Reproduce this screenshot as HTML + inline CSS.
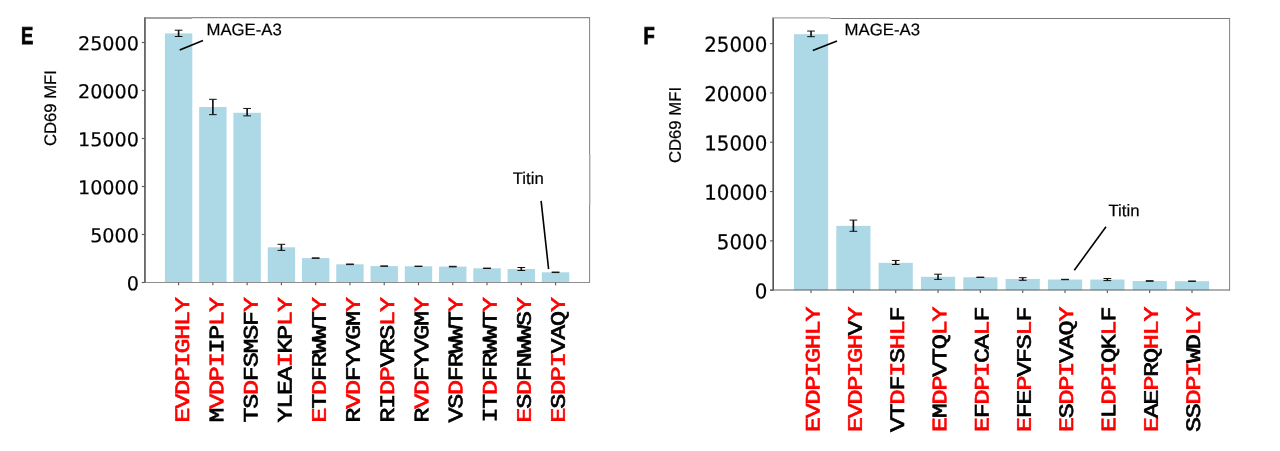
<!DOCTYPE html>
<html lang="en">
<head>
<meta charset="utf-8">
<title>CD69 MFI bar charts</title>
<style>
html,body{margin:0;padding:0;background:#fff}
body{width:1280px;height:451px;overflow:hidden}
svg{display:block}
text{font-kerning:none;text-rendering:geometricPrecision}
.bars rect{fill:#add8e6}
.err .st{fill:none;stroke:#111;stroke-width:1.65}
.err .cp{fill:none;stroke:#111;stroke-width:1}
.fl{fill:none;stroke:#454545;stroke-width:1.5}
.ft,.ftl{fill:none}
.frl{fill:none;stroke:#8a8a8a;stroke-width:1.1}
.fr{fill:none;stroke:#808080;stroke-width:1}
.fb{fill:none}
.tick path{fill:none;stroke:#5a5a5a;stroke-width:1.15}
.ytl text{font-family:"DejaVu Sans","Liberation Sans",sans-serif;text-anchor:end;fill:#000;stroke:#000;stroke-width:.2px}
.ylab{font-family:"Liberation Sans",sans-serif;font-size:16.7px;text-anchor:middle;fill:#000;stroke:#000;stroke-width:.25px}
.panel{font-family:"Liberation Sans",sans-serif;font-weight:bold;font-size:24.5px;fill:#000;stroke:#000;stroke-width:.85px;stroke-linejoin:miter}
.ann{font-family:"Liberation Sans",sans-serif;font-size:16.75px;fill:#000;stroke:#000;stroke-width:.2px}
.kn{font-kerning:normal}
.annl{fill:none;stroke:#000;stroke-width:1.6}
.xl text{font-family:"Liberation Mono",monospace;font-weight:normal;font-size:25px;letter-spacing:-1.2px;text-anchor:end;text-rendering:geometricPrecision;stroke-width:.8px;stroke-linejoin:miter}
.xl .r{fill:#ff0000;stroke:#ff0000}
.xl .k{fill:#000;stroke:#000}
</style>
</head>
<body>
<svg width="1280" height="451" viewBox="0 0 1280 451">
<rect width="1280" height="451" fill="#ffffff"/>
<g id="chartE">
<g class="bars">
<rect x="164.9" y="33.4" width="27.4" height="249.1"/>
<rect x="199.17" y="107" width="27.4" height="175.5"/>
<rect x="233.44" y="112.8" width="27.4" height="169.7"/>
<rect x="267.71" y="247.3" width="27.4" height="35.2"/>
<rect x="301.98" y="258.1" width="27.4" height="24.4"/>
<rect x="336.25" y="264.3" width="27.4" height="18.2"/>
<rect x="370.52" y="266.1" width="27.4" height="16.4"/>
<rect x="404.79" y="266.3" width="27.4" height="16.2"/>
<rect x="439.06" y="266.6" width="27.4" height="15.9"/>
<rect x="473.33" y="268.3" width="27.4" height="14.2"/>
<rect x="507.6" y="269" width="27.4" height="13.5"/>
<rect x="541.87" y="272.3" width="27.4" height="10.2"/>
</g>
<g class="err">
<path class="st" d="M178.6 30.2V36.5"/>
<path class="cp" d="M174.75 30.2H182.45M174.75 36.5H182.45"/>
<path class="st" d="M212.87 99.3V114.65"/>
<path class="cp" d="M209.02 99.3H216.72M209.02 114.65H216.72"/>
<path class="st" d="M247.14 108.45V115.85"/>
<path class="cp" d="M243.29 108.45H250.99M243.29 115.85H250.99"/>
<path class="st" d="M281.41 244.3V250.4"/>
<path class="cp" d="M277.56 244.3H285.26M277.56 250.4H285.26"/>
<path class="cp" d="M311.83 257.9H319.53M311.83 258.3H319.53"/>
<path class="cp" d="M346.1 264H353.8M346.1 264.6H353.8"/>
<path class="cp" d="M380.37 265.95H388.07M380.37 266.25H388.07"/>
<path class="cp" d="M414.64 266.15H422.34M414.64 266.45H422.34"/>
<path class="cp" d="M448.91 266.3H456.61M448.91 266.9H456.61"/>
<path class="cp" d="M483.18 268.1H490.88M483.18 268.5H490.88"/>
<path class="st" d="M521.3 267.5V270.5"/>
<path class="cp" d="M517.45 267.5H525.15M517.45 270.5H525.15"/>
<path class="cp" d="M551.72 272.05H559.42M551.72 272.55H559.42"/>
</g>
<path class="fl" d="M144.95 17.3V282.9"/>
<path class="ftl" style="stroke:#858585;stroke-width:1.6" d="M144.95 17.95H192"/>
<path class="ft" style="stroke:#8c8c8c;stroke-width:1.1" d="M192 17.6H590.1"/>
<path class="fr" d="M589.6 17.8V154M589.6 204.4V282.9"/>
<path class="frl" d="M589.8 154V204.4"/>
<path class="fb" style="stroke:#8e8e8e;stroke-width:1" d="M141.85 282.5H589.6"/>
<g class="tick">
<path d="M141.85 282.5H144.95"/>
<path d="M141.85 234.5H144.95"/>
<path d="M141.85 186.5H144.95"/>
<path d="M141.85 138.5H144.95"/>
<path d="M141.85 90.5H144.95"/>
<path d="M141.85 42.5H144.95"/>
<path d="M178.6 282.5V285.3"/>
<path d="M212.87 282.5V285.3"/>
<path d="M247.14 282.5V285.3"/>
<path d="M281.41 282.5V285.3"/>
<path d="M315.68 282.5V285.3"/>
<path d="M349.95 282.5V285.3"/>
<path d="M384.22 282.5V285.3"/>
<path d="M418.49 282.5V285.3"/>
<path d="M452.76 282.5V285.3"/>
<path d="M487.03 282.5V285.3"/>
<path d="M521.3 282.5V285.3"/>
<path d="M555.57 282.5V285.3"/>
</g>
<g class="ytl">
<text transform="translate(139 290.2) rotate(0.03) scale(1 1)" font-size="19.2">0</text>
<text transform="translate(139 242.2) rotate(0.03) scale(1 1)" font-size="19.2">5000</text>
<text transform="translate(139 194.2) rotate(0.03) scale(1 1)" font-size="19.2">10000</text>
<text transform="translate(139 146.2) rotate(0.03) scale(1 1)" font-size="19.2">15000</text>
<text transform="translate(139 98.2) rotate(0.03) scale(1 1)" font-size="19.2">20000</text>
<text transform="translate(139 50.2) rotate(0.03) scale(1 1)" font-size="19.2">25000</text>
</g>
<text class="ylab" transform="translate(55.95 108.1) rotate(-89.97)">CD69 MFI</text>
<text class="panel" transform="translate(20.9 44.45) rotate(0.03) scale(0.75 1)">E</text>
<text class="ann" transform="translate(206.45 35.2) rotate(0.03)">MAGE-A3</text>
<path class="annl" d="M179.7 50.1L203 40.6"/>
<text class="ann kn" transform="translate(512.75 183.95) rotate(0.03)">Titin</text>
<path class="annl" d="M541.1 200.8L548.6 269.2"/>
<g class="xl">
<text transform="translate(188.95 298.3) rotate(-89.97) scale(1 0.82)"><tspan class="r">EVDPIGHLY</tspan></text>
<text transform="translate(223.2 298.3) rotate(-89.97) scale(1 0.82)"><tspan class="k">M</tspan><tspan class="r">VDPI</tspan><tspan class="k">IP</tspan><tspan class="r">LY</tspan></text>
<text transform="translate(257.45 298.3) rotate(-89.97) scale(1 0.82)"><tspan class="k">TS</tspan><tspan class="r">D</tspan><tspan class="k">FSMSF</tspan><tspan class="r">Y</tspan></text>
<text transform="translate(291.45 298.3) rotate(-89.97) scale(1 0.82)"><tspan class="k">YLEA</tspan><tspan class="r">I</tspan><tspan class="k">KP</tspan><tspan class="r">LY</tspan></text>
<text transform="translate(325.7 298.3) rotate(-89.97) scale(1 0.82)"><tspan class="r">E</tspan><tspan class="k">T</tspan><tspan class="r">D</tspan><tspan class="k">FRWWT</tspan><tspan class="r">Y</tspan></text>
<text transform="translate(359.7 298.3) rotate(-89.97) scale(1 0.82)"><tspan class="k">R</tspan><tspan class="r">VD</tspan><tspan class="k">FYVGM</tspan><tspan class="r">Y</tspan></text>
<text transform="translate(393.95 298.3) rotate(-89.97) scale(1 0.82)"><tspan class="k">RI</tspan><tspan class="r">DP</tspan><tspan class="k">VRS</tspan><tspan class="r">LY</tspan></text>
<text transform="translate(428.2 298.3) rotate(-89.97) scale(1 0.82)"><tspan class="k">R</tspan><tspan class="r">VD</tspan><tspan class="k">FYVGM</tspan><tspan class="r">Y</tspan></text>
<text transform="translate(462.2 298.3) rotate(-89.97) scale(1 0.82)"><tspan class="k">VS</tspan><tspan class="r">D</tspan><tspan class="k">FRWWT</tspan><tspan class="r">Y</tspan></text>
<text transform="translate(496.45 298.3) rotate(-89.97) scale(1 0.82)"><tspan class="k">IT</tspan><tspan class="r">D</tspan><tspan class="k">FRWWT</tspan><tspan class="r">Y</tspan></text>
<text transform="translate(530.7 298.3) rotate(-89.97) scale(1 0.82)"><tspan class="r">E</tspan><tspan class="k">S</tspan><tspan class="r">D</tspan><tspan class="k">FNWWS</tspan><tspan class="r">Y</tspan></text>
<text transform="translate(564.7 298.3) rotate(-89.97) scale(1 0.82)"><tspan class="r">E</tspan><tspan class="k">S</tspan><tspan class="r">DPI</tspan><tspan class="k">VAQ</tspan><tspan class="r">Y</tspan></text>
</g>
</g>
<g id="chartF">
<g class="bars">
<rect x="793.95" y="34.2" width="34.2" height="256"/>
<rect x="836.28" y="225.85" width="34.2" height="64.35"/>
<rect x="878.61" y="262.8" width="34.2" height="27.4"/>
<rect x="920.94" y="276.8" width="34.2" height="13.4"/>
<rect x="963.27" y="277.3" width="34.2" height="12.9"/>
<rect x="1005.6" y="279" width="34.2" height="11.2"/>
<rect x="1047.93" y="279.5" width="34.2" height="10.7"/>
<rect x="1090.26" y="279.55" width="34.2" height="10.65"/>
<rect x="1132.59" y="281" width="34.2" height="9.2"/>
<rect x="1174.92" y="281.2" width="34.2" height="9"/>
</g>
<g class="err">
<path class="st" d="M811.05 31.05V36.7"/>
<path class="cp" d="M807.2 31.05H814.9M807.2 36.7H814.9"/>
<path class="st" d="M853.38 220.1V231.3"/>
<path class="cp" d="M849.53 220.1H857.23M849.53 231.3H857.23"/>
<path class="st" d="M895.71 260.45V264.5"/>
<path class="cp" d="M891.86 260.45H899.56M891.86 264.5H899.56"/>
<path class="st" d="M938.04 274.2V279.4"/>
<path class="cp" d="M934.19 274.2H941.89M934.19 279.4H941.89"/>
<path class="cp" d="M976.52 277.15H984.22M976.52 277.45H984.22"/>
<path class="st" d="M1022.7 277.7V280.3"/>
<path class="cp" d="M1018.85 277.7H1026.55M1018.85 280.3H1026.55"/>
<path class="cp" d="M1061.18 279.3H1068.88M1061.18 279.7H1068.88"/>
<path class="st" d="M1107.36 278.5V280.6"/>
<path class="cp" d="M1103.51 278.5H1111.21M1103.51 280.6H1111.21"/>
<path class="cp" d="M1145.84 280.7H1153.54M1145.84 281.3H1153.54"/>
<path class="cp" d="M1188.17 281.1H1195.87M1188.17 281.3H1195.87"/>
</g>
<path class="fl" d="M773.15 17.6V290.6"/>
<path class="ftl" style="stroke:#a6a6a6;stroke-width:1.3" d="M773.15 17.9H830.3"/>
<path class="ft" style="stroke:#7a7a7a;stroke-width:1.2" d="M830.3 18.5H1230.1"/>
<path class="fr" d="M1229.6 18.1V290.6"/>
<path class="fb" style="stroke:#606060;stroke-width:1.1" d="M770.05 290.05H1229.6"/>
<g class="tick">
<path d="M770.05 290.2H773.15"/>
<path d="M770.05 240.88H773.15"/>
<path d="M770.05 191.56H773.15"/>
<path d="M770.05 142.24H773.15"/>
<path d="M770.05 92.92H773.15"/>
<path d="M770.05 43.6H773.15"/>
<path d="M811.05 290.2V293"/>
<path d="M853.38 290.2V293"/>
<path d="M895.71 290.2V293"/>
<path d="M938.04 290.2V293"/>
<path d="M980.37 290.2V293"/>
<path d="M1022.7 290.2V293"/>
<path d="M1065.03 290.2V293"/>
<path d="M1107.36 290.2V293"/>
<path d="M1149.69 290.2V293"/>
<path d="M1192.02 290.2V293"/>
</g>
<g class="ytl">
<text transform="translate(767.3 298.45) rotate(0.03) scale(1 1.04)" font-size="19.85">0</text>
<text transform="translate(767.3 249.2) rotate(0.03) scale(1 1.04)" font-size="19.85">5000</text>
<text transform="translate(767.3 199.7) rotate(0.03) scale(1 1.04)" font-size="19.85">10000</text>
<text transform="translate(767.3 150.45) rotate(0.03) scale(1 1.04)" font-size="19.85">15000</text>
<text transform="translate(767.3 101.2) rotate(0.03) scale(1 1.04)" font-size="19.85">20000</text>
<text transform="translate(767.3 51.7) rotate(0.03) scale(1 1.04)" font-size="19.85">25000</text>
</g>
<text class="ylab" transform="translate(680.7 125) rotate(-89.97)">CD69 MFI</text>
<text class="panel" transform="translate(643.5 44.45) rotate(0.03) scale(0.75 1)">F</text>
<text class="ann" transform="translate(844.6 35.2) rotate(0.03)">MAGE-A3</text>
<path class="annl" d="M812.8 50.4L837 41"/>
<text class="ann kn" transform="translate(1108.5 216.2) rotate(0.03)">Titin</text>
<path class="annl" d="M1106 226.7L1074.3 270.2"/>
<g class="xl">
<text transform="translate(819.45 307.75) rotate(-89.97) scale(1 0.82)"><tspan class="r">EVDPIGHLY</tspan></text>
<text transform="translate(861.7 307.75) rotate(-89.97) scale(1 0.82)"><tspan class="r">EVDPIGH</tspan><tspan class="k">V</tspan><tspan class="r">Y</tspan></text>
<text transform="translate(903.95 307.75) rotate(-89.97) scale(1 0.82)"><tspan class="k">VT</tspan><tspan class="r">D</tspan><tspan class="k">F</tspan><tspan class="r">I</tspan><tspan class="k">S</tspan><tspan class="r">HL</tspan><tspan class="k">F</tspan></text>
<text transform="translate(946.2 307.75) rotate(-89.97) scale(1 0.82)"><tspan class="r">E</tspan><tspan class="k">M</tspan><tspan class="r">DP</tspan><tspan class="k">VTQ</tspan><tspan class="r">LY</tspan></text>
<text transform="translate(988.45 307.75) rotate(-89.97) scale(1 0.82)"><tspan class="r">E</tspan><tspan class="k">F</tspan><tspan class="r">DPI</tspan><tspan class="k">CA</tspan><tspan class="r">L</tspan><tspan class="k">F</tspan></text>
<text transform="translate(1030.7 307.75) rotate(-89.97) scale(1 0.82)"><tspan class="r">E</tspan><tspan class="k">FE</tspan><tspan class="r">P</tspan><tspan class="k">VFS</tspan><tspan class="r">L</tspan><tspan class="k">F</tspan></text>
<text transform="translate(1072.95 307.75) rotate(-89.97) scale(1 0.82)"><tspan class="r">E</tspan><tspan class="k">S</tspan><tspan class="r">DPI</tspan><tspan class="k">VAQ</tspan><tspan class="r">Y</tspan></text>
<text transform="translate(1115.2 307.75) rotate(-89.97) scale(1 0.82)"><tspan class="r">E</tspan><tspan class="k">L</tspan><tspan class="r">DPI</tspan><tspan class="k">QK</tspan><tspan class="r">L</tspan><tspan class="k">F</tspan></text>
<text transform="translate(1157.7 307.75) rotate(-89.97) scale(1 0.82)"><tspan class="r">E</tspan><tspan class="k">AE</tspan><tspan class="r">P</tspan><tspan class="k">RQ</tspan><tspan class="r">HLY</tspan></text>
<text transform="translate(1199.95 307.75) rotate(-89.97) scale(1 0.82)"><tspan class="k">SS</tspan><tspan class="r">DPI</tspan><tspan class="k">WD</tspan><tspan class="r">LY</tspan></text>
</g>
</g>
</svg>
</body>
</html>
